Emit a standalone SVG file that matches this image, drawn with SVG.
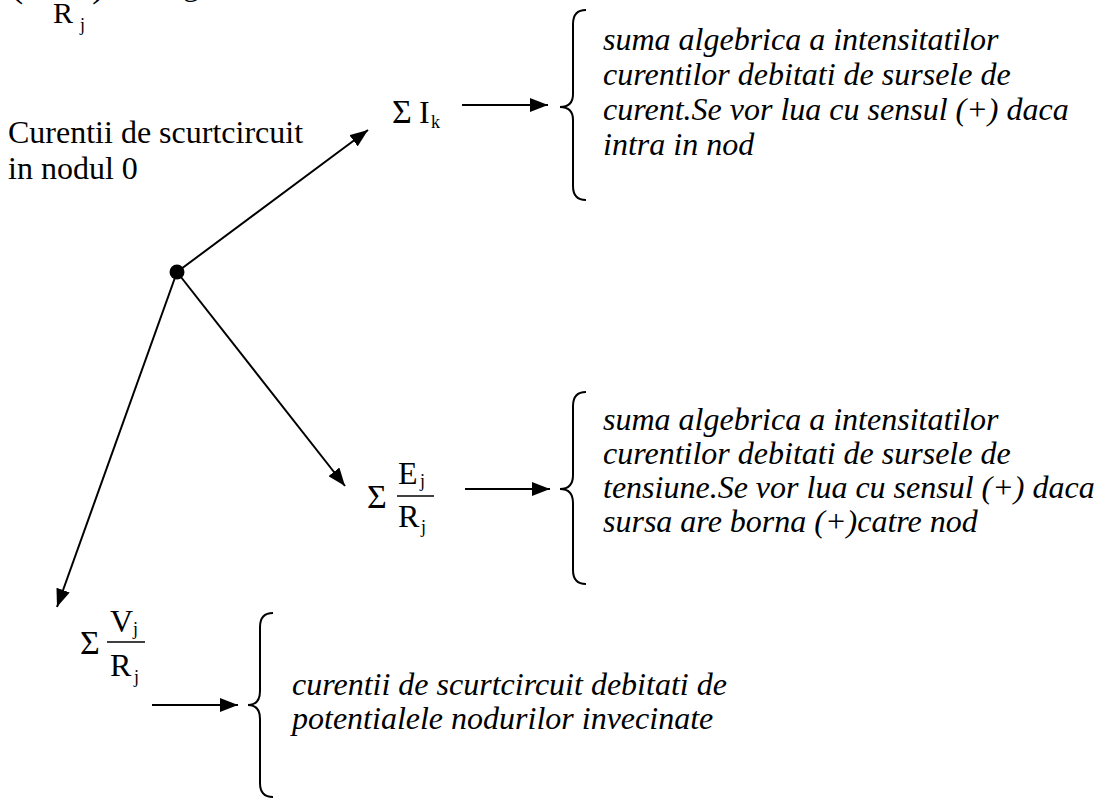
<svg xmlns="http://www.w3.org/2000/svg" width="1101" height="798" viewBox="0 0 1101 798">
<style>
  .t { font-family: "Liberation Serif", "Times New Roman", serif; font-size: 32px; fill: #000; }
  .sig { font-family: "Liberation Serif", "Times New Roman", serif; font-size: 34px; fill: #000; }
  .i { font-family: "Liberation Serif", "Times New Roman", serif; font-size: 32px; font-style: italic; fill: #000; }
  .s { font-family: "Liberation Serif", "Times New Roman", serif; font-size: 18px; fill: #000; }
  .ln { stroke: #000; stroke-width: 2; fill: none; }
  .br { stroke: #000; stroke-width: 2; fill: none; }
</style>
<defs>
  <marker id="ah" markerUnits="userSpaceOnUse" markerWidth="20" markerHeight="14" refX="18" refY="7" orient="auto">
    <path d="M0,0 L18,7 L0,14 Z" fill="#000"/>
  </marker>
</defs>
<rect width="1101" height="798" fill="#fff"/>

<g id="fragment-top">
  <text class="t" x="10" y="-4" style="font-size:40px">(</text>
  <text class="t" x="92" y="-4" style="font-size:40px">)</text>
  <text class="t" x="53" y="23" style="font-size:30px">R</text>
  <text class="s" x="80" y="31">j</text>
  <text class="t" x="183" y="-5">g</text>
</g>

<g id="title">
  <text class="t" x="8" y="143">Curentii de scurtcircuit</text>
  <text class="t" x="8" y="179">in nodul 0</text>
</g>

<g id="node0">
  <circle cx="177" cy="272" r="7.5" fill="#000"/>
</g>

<g id="sum-Ik">
  <text class="sig" x="392" y="123">Σ</text>
  <text class="t" x="419" y="123">I</text>
  <text class="s" x="431" y="128">k</text>
</g>

<g id="sum-Ej-Rj">
  <text class="sig" x="367" y="508">Σ</text>
  <text class="t" x="398" y="484">E</text>
  <text class="s" x="420" y="487">j</text>
  <line x1="397" y1="496" x2="434" y2="496" stroke="#000" stroke-width="1.5"/>
  <text class="t" x="398" y="527">R</text>
  <text class="s" x="421" y="533">j</text>
</g>

<g id="sum-Vj-Rj">
  <text class="sig" x="80" y="654">Σ</text>
  <text class="t" x="110" y="632">V</text>
  <text class="s" x="133" y="635">j</text>
  <line x1="107" y1="642" x2="145" y2="642" stroke="#000" stroke-width="1.5"/>
  <text class="t" x="110" y="676">R</text>
  <text class="s" x="134" y="683">j</text>
</g>

<g id="desc-Ik">
  <path class="br" d="M586,10 Q573,10 573,24 L573,94 Q573,107 560,107 Q573,107 573,120 L573,186 Q573,200 586,200"/>
  <text class="i" x="603" y="50">suma algebrica a intensitatilor</text>
  <text class="i" x="603" y="85">curentilor debitati de sursele de</text>
  <text class="i" x="603" y="120">curent.Se vor lua cu sensul (+) daca</text>
  <text class="i" x="603" y="155">intra in nod</text>
</g>

<g id="desc-Ej">
  <path class="br" d="M586,392 Q573,392 573,406 L573,475 Q573,489 560,489 Q573,489 573,503 L573,570 Q573,584 586,584"/>
  <text class="i" x="603" y="430">suma algebrica a intensitatilor</text>
  <text class="i" x="603" y="464">curentilor debitati de sursele de</text>
  <text class="i" x="603" y="498">tensiune.Se vor lua cu sensul (+) daca</text>
  <text class="i" x="603" y="532">sursa are borna (+)catre nod</text>
</g>

<g id="desc-Vj">
  <path class="br" d="M273,613 Q260,613 260,627 L260,691 Q260,705 248,705 Q260,705 260,719 L260,783 Q260,797 273,797"/>
  <text class="i" x="292" y="695">curentii de scurtcircuit debitati de</text>
  <text class="i" x="292" y="729">potentialele nodurilor invecinate</text>
</g>

<g id="connectors">
  <line class="ln" x1="177" y1="272" x2="368" y2="130" marker-end="url(#ah)"/>
  <line class="ln" x1="177" y1="272" x2="345" y2="486" marker-end="url(#ah)"/>
  <line class="ln" x1="177" y1="272" x2="57" y2="607" marker-end="url(#ah)"/>
  <line class="ln" x1="462" y1="105" x2="548" y2="105" marker-end="url(#ah)"/>
  <line class="ln" x1="465" y1="489" x2="550" y2="489" marker-end="url(#ah)"/>
  <line class="ln" x1="152" y1="705" x2="238" y2="705" marker-end="url(#ah)"/>
</g>
</svg>
